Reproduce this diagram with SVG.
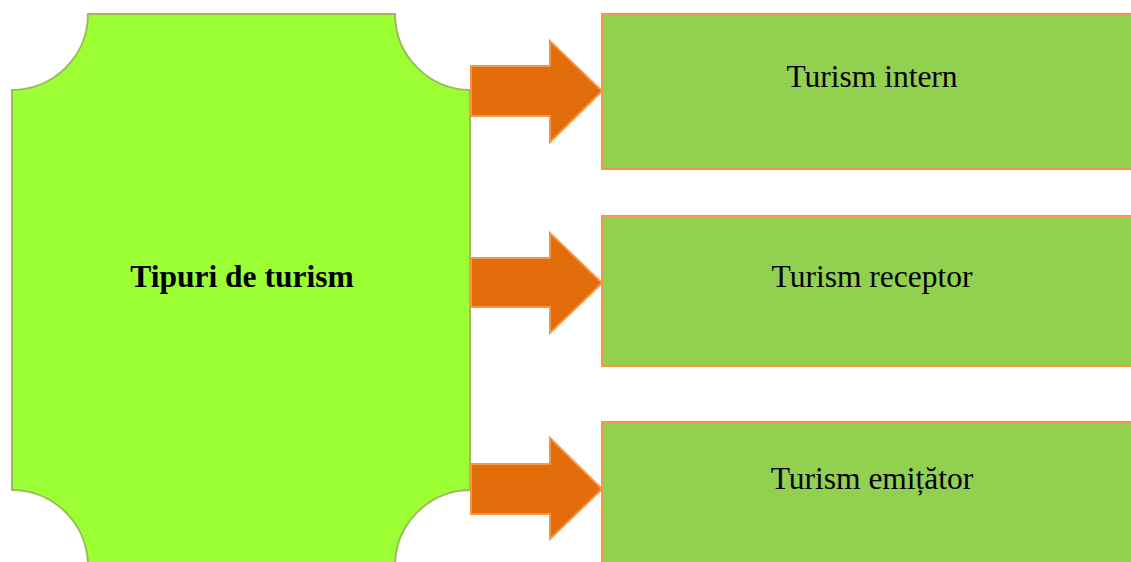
<svg xmlns="http://www.w3.org/2000/svg" width="1131" height="562" viewBox="0 0 1131 562">
  <style>
    .label { font-family: "Liberation Serif", "Times New Roman", serif; font-size: 31.5px; fill: #000; text-anchor: middle; }
    .main { fill: #9BFF33; stroke: #9BBB59; stroke-width: 2; }
    .box { fill: #92D050; stroke: #F79646; stroke-width: 2; }
    .arrow { fill: #E36C0A; stroke: #F79646; stroke-width: 2; stroke-linejoin: miter; }
  </style>
  <rect width="1131" height="562" fill="#FFFFFF"/>

  <!-- central plaque with concave corners -->
  <g id="node-tipuri">
    <path class="main" d="M 88 14 L 395 14 A 76 76 0 0 0 470 90 L 470 490 A 76 76 0 0 0 395 566 L 88 566 A 76 76 0 0 0 12 490 L 12 90 A 76 76 0 0 0 88 14 Z"/>
    <text class="label" x="242" y="287" font-weight="bold">Tipuri de turism</text>
  </g>

  <!-- block arrows -->
  <g id="connectors">
    <path class="arrow" d="M 471 66 L 550 66 L 550 41 L 602 91 L 550 142 L 550 116 L 471 116 Z"/>
    <path class="arrow" d="M 471 258 L 550 258 L 550 233 L 602 283 L 550 333 L 550 307 L 471 307 Z"/>
    <path class="arrow" d="M 471 464 L 550 464 L 550 438 L 602 489 L 550 539 L 550 514 L 471 514 Z"/>
  </g>

  <g id="node-intern">
    <rect class="box" x="602" y="14" width="545" height="155"/>
    <text class="label" x="872" y="87">Turism intern</text>
  </g>

  <g id="node-receptor">
    <rect class="box" x="602" y="216" width="545" height="150"/>
    <text class="label" x="872" y="287">Turism receptor</text>
  </g>

  <g id="node-emitator">
    <rect class="box" x="602" y="422" width="545" height="160"/>
    <text class="label" x="872" y="489">Turism emițător</text>
  </g>
</svg>
